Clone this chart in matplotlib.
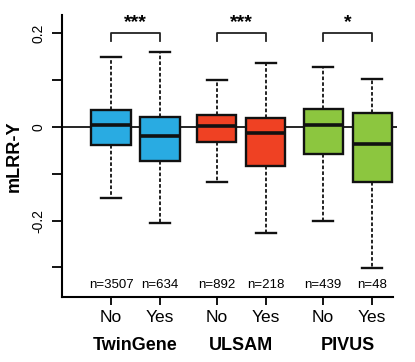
import matplotlib
matplotlib.use("Agg")
import matplotlib.pyplot as plt
from matplotlib.transforms import blended_transform_factory

plt.rcParams['font.family'] = ['Liberation Sans', 'DejaVu Sans']

# ---------------- dados ----------------
cohorts   = ['TwinGene', 'ULSAM', 'PIVUS']
groups    = ['No', 'Yes', 'No', 'Yes', 'No', 'Yes']
n_labels  = ['n=3507', 'n=634', 'n=892', 'n=218', 'n=439', 'n=48']
whis_hi   = [0.149, 0.159, 0.100, 0.137, 0.128, 0.103]
q3        = [0.037, 0.022, 0.026, 0.020, 0.039, 0.029]
medians   = [0.004, -0.019, 0.003, -0.012, 0.004, -0.036]
q1        = [-0.038, -0.072, -0.033, -0.083, -0.058, -0.118]
whis_lo   = [-0.152, -0.206, -0.117, -0.227, -0.200, -0.301]
signif    = ['***', '***', '*']
colors    = ['#29abe2', '#29abe2', '#ef4123', '#ef4123', '#8cc63f', '#8cc63f']

# posições (pares com espaço extra entre coortes)
positions = [1, 2, 3.16, 4.16, 5.33, 6.33]

fig = plt.figure(figsize=(4.15, 3.62), dpi=100)
ax = fig.add_axes([62/415, 1 - 297/362, (397 - 62)/415, 282/362])

ax.axhline(0, color='black', lw=1.2, zorder=1)

stats = []
for i in range(len(positions)):
    stats.append(dict(med=medians[i], q1=q1[i], q3=q3[i],
                      whislo=whis_lo[i], whishi=whis_hi[i], fliers=[]))

bp = ax.bxp(stats, positions=positions, widths=0.8, patch_artist=True,
            showfliers=False, capwidths=0.42,
            boxprops=dict(linewidth=1.7, edgecolor='#111111'),
            medianprops=dict(color='#111111', linewidth=2.6),
            whiskerprops=dict(color='#111111', linewidth=1.3, linestyle=(0, (2, 1.2))),
            capprops=dict(color='#111111', linewidth=1.7))
for patch, c in zip(bp['boxes'], colors):
    patch.set_facecolor(c)
    patch.set_zorder(2)

# ---------------- eixos ----------------
ax.set_xlim(0, (397 - 62)/49)
ax.set_ylim(-0.363, 0.239)
for s in ['top', 'right']:
    ax.spines[s].set_visible(False)
ax.spines['bottom'].set_bounds(0, (393 - 62)/49)
ax.spines['left'].set_linewidth(1.5)
ax.spines['bottom'].set_linewidth(1.5)

ax.set_yticks([-0.3, -0.2, -0.1, 0, 0.1, 0.2])
ax.set_yticklabels(['', '-0.2', '', '0', '', '0.2'], rotation=90, va='center')
ax.tick_params(axis='y', length=7, width=1.3, labelsize=10, pad=5)
ax.set_xticks(positions)
ax.set_xticklabels(groups, fontsize=12.5)
ax.tick_params(axis='x', length=6, width=1.3, pad=3)

ax.set_ylabel('mLRR-Y', fontsize=13, fontweight='bold', labelpad=6)

# n= e nomes das coortes
for p, lab in zip(positions, n_labels):
    ax.text(p, -0.337, lab, ha='center', va='center', fontsize=9.5)

trans = blended_transform_factory(ax.transData, fig.transFigure)
for k, name in enumerate(cohorts):
    xc = (positions[2*k] + positions[2*k + 1]) / 2
    fig.text(xc, 1 - 345/362, name, transform=trans, ha='center', va='center',
             fontsize=13, fontweight='bold')

# chaves de significância
for k, star in enumerate(signif):
    x0, x1 = positions[2*k], positions[2*k + 1]
    ax.plot([x0, x0, x1, x1], [0.184, 0.2, 0.2, 0.184], color='#222222',
            lw=1.3, clip_on=False)
    ax.text((x0 + x1)/2, 0.222, star, ha='center', va='center',
            fontsize=14, fontweight='bold')

fig.savefig('out.png', dpi=100)
